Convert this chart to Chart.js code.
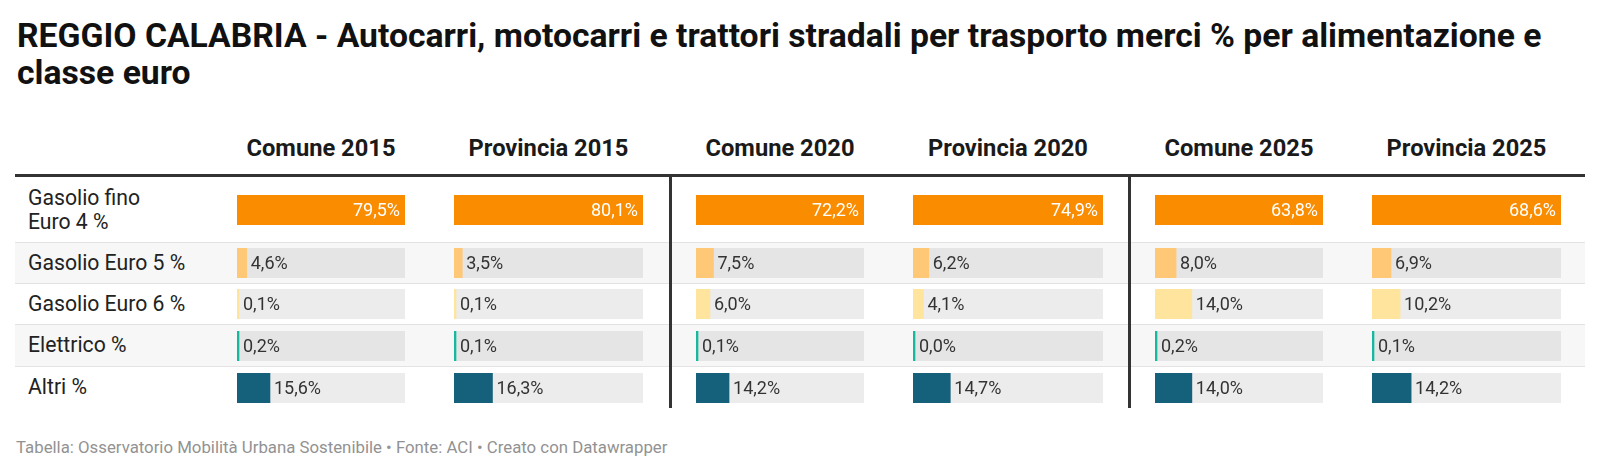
<!DOCTYPE html>
<html>
<head>
<meta charset="utf-8">
<script src="https://cdn.jsdelivr.net/npm/chart.js@4.4.1/dist/chart.umd.min.js"></script>
<style>
  html, body { margin: 0; padding: 0; background: #fff; }
  body { width: 1600px; height: 473px; position: relative; overflow: hidden; font-family: Roboto, sans-serif; }
  .abs { position: absolute; }
  #title { left: 17px; top: 17px; font-size: 33.7px; line-height: 37px; font-weight: 700; color: #111; white-space: nowrap; }
  .head { display: flex; align-items: center; justify-content: center; font-size: 23.7px; font-weight: 700; color: #1a1a1a; white-space: nowrap; }
  .rowlab { display: flex; align-items: center; font-size: 21.2px; line-height: 24px; color: #222; white-space: pre-line; }
  #footer { left: 16px; top: 436px; font-size: 16.8px; line-height: 22px; color: #929292; white-space: nowrap; }
</style>
</head>
<body>
<div id="title" class="abs">REGGIO CALABRIA - Autocarri, motocarri e trattori stradali per trasporto merci % per alimentazione e<br>classe euro</div>
<div id="footer" class="abs">Tabella: Osservatorio Mobilità Urbana Sostenibile • Fonte: ACI • Creato con Datawrapper</div>
<script>
// categories (rows) and columns
var categories = ['Gasolio fino\nEuro 4 %', 'Gasolio Euro 5 %', 'Gasolio Euro 6 %', 'Elettrico %', 'Altri %'];
var columns = ['Comune 2015', 'Provincia 2015', 'Comune 2020', 'Provincia 2020', 'Comune 2025', 'Provincia 2025'];

// values per column, same order as categories
var comune2015 = [79.5, 4.6, 0.1, 0.2, 15.6];
var provincia2015 = [80.1, 3.5, 0.1, 0.1, 16.3];
var comune2020 = [72.2, 7.5, 6.0, 0.1, 14.2];
var provincia2020 = [74.9, 6.2, 4.1, 0.0, 14.7];
var comune2025 = [63.8, 8.0, 14.0, 0.2, 14.0];
var provincia2025 = [68.6, 6.9, 10.2, 0.1, 14.2];

var series = [comune2015, provincia2015, comune2020, provincia2020, comune2025, provincia2025];
var rowColors = ['#fa8c00', '#fec877', '#ffe49e', '#17b89d', '#15607a'];

// layout
var colLeft = [237, 454, 696, 913, 1155, 1372];
var colWidth = [168, 189, 168, 190, 168, 189];
var rowTop = [177, 242, 283, 324, 366];
var rowHeight = [65, 41, 41, 42, 42];
var barHeight = 30;
var tableLeft = 15, tableRight = 1585;
var separators = [670, 1129];

function fmt(v) {
    return v.toFixed(1).replace('.', ',') + '%';
}

function addDiv(cls, css, text) {
    var d = document.createElement('div');
    d.className = 'abs ' + (cls || '');
    Object.assign(d.style, css);
    if (text !== undefined) d.textContent = text;
    document.body.appendChild(d);
    return d;
}

// row stripes and separators
for (var r = 0; r < categories.length; r++) {
    if (r % 2 === 1) {
        addDiv('', { left: tableLeft + 'px', top: rowTop[r] + 'px', width: (tableRight - tableLeft) + 'px', height: rowHeight[r] + 'px', background: '#f7f7f7' });
    }
    if (r > 0) {
        addDiv('', { left: tableLeft + 'px', top: rowTop[r] + 'px', width: (tableRight - tableLeft) + 'px', height: '1px', background: '#e3e3e3' });
    }
    addDiv('rowlab', { left: '28px', top: rowTop[r] + 'px', height: rowHeight[r] + 'px', width: '200px' }, categories[r]);
}

// header row
columns.forEach(function (name, c) {
    addDiv('head', { left: colLeft[c] + 'px', top: '130px', width: colWidth[c] + 'px', height: '36px' }, name);
});
addDiv('', { left: tableLeft + 'px', top: '174px', width: (tableRight - tableLeft) + 'px', height: '3px', background: '#333' });
separators.forEach(function (x) {
    addDiv('', { left: (x - 1) + 'px', top: '174px', width: '3px', height: '234px', background: '#333' });
});

// label plugin: inside (white) if it fits, else after the bar
var valueLabel = {
    id: 'valueLabel',
    afterDatasetsDraw: function (chart) {
        var ctx = chart.ctx;
        var meta = chart.getDatasetMeta(0);
        var bar = meta.data[0];
        var v = chart.data.datasets[0].data[0];
        var txt = fmt(v);
        ctx.save();
        ctx.font = '18px Roboto';
        ctx.textBaseline = 'middle';
        var w = ctx.measureText(txt).width;
        var barW = bar.x - bar.base;
        if (barW >= w + 10) {
            ctx.fillStyle = '#ffffff';
            ctx.textAlign = 'right';
            ctx.fillText(txt, bar.x - 5, bar.y + 1);
        } else {
            ctx.fillStyle = '#333333';
            ctx.textAlign = 'left';
            ctx.fillText(txt, Math.max(bar.x, bar.base + 2) + 4, bar.y + 1);
        }
        ctx.restore();
    }
};

// one small bar chart per cell
series.forEach(function (vals, c) {
    var colMax = Math.max.apply(null, vals);
    vals.forEach(function (v, r) {
        var cv = document.createElement('canvas');
        cv.width = colWidth[c];
        cv.height = barHeight;
        cv.className = 'abs';
        cv.style.left = colLeft[c] + 'px';
        cv.style.top = (rowTop[r] + (r > 0 ? 1 : 0) + Math.round((rowHeight[r] - (r > 0 ? 1 : 0) - barHeight) / 2)) + 'px';
        cv.style.width = colWidth[c] + 'px';
        cv.style.height = barHeight + 'px';
        document.body.appendChild(cv);

        new Chart(cv.getContext('2d'), {
            type: 'bar',
            data: {
                labels: [categories[r]],
                datasets: [{
                    data: [v],
                    backgroundColor: rowColors[r],
                    minBarLength: 2,
                    order: 1
                }, {
                    data: [colMax],
                    backgroundColor: r % 2 === 1 ? '#e5e5e5' : '#ececec',
                    order: 2
                }]
            },
            options: {
                indexAxis: 'y',
                responsive: false,
                maintainAspectRatio: false,
                animation: false,
                events: [],
                layout: { padding: 0 },
                datasets: { bar: { grouped: false, barPercentage: 1, categoryPercentage: 1, borderWidth: 0 } },
                scales: {
                    x: { display: false, min: 0, max: colMax },
                    y: { display: false }
                },
                plugins: {
                    legend: { display: false },
                    tooltip: { enabled: false }
                }
            },
            plugins: [valueLabel]
        });
    });
});
</script>
</body>
</html>
